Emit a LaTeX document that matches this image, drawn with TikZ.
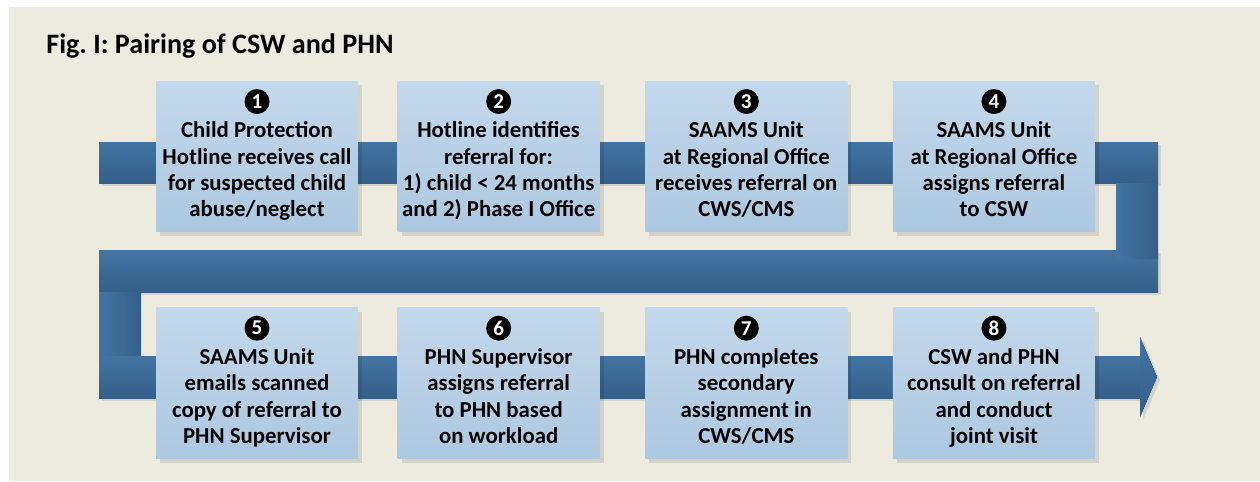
\documentclass[tikz,border=0pt]{standalone}
\usepackage{fontspec}
\setmainfont{Carlito}
\usepackage{tikz}
\usetikzlibrary{positioning,shadows,calc}
\definecolor{paper}{RGB}{237,235,224}
\definecolor{bandtop}{RGB}{66,116,162}
\definecolor{bandbot}{RGB}{53,95,137}
\definecolor{boxtop}{RGB}{195,216,235}
\definecolor{boxbot}{RGB}{172,200,224}

\begin{document}
\begin{tikzpicture}[x=0.02cm,y=-0.02cm,node distance=0.84cm]
        \tikzset{stepbox/.style={rectangle,minimum width=4.04cm,minimum height=3.02cm,inner sep=0pt,top color=boxtop,bottom color=boxbot,drop shadow={shadow xshift=0.08cm,shadow yshift=-0.08cm,fill=black,opacity=0.1}}}
        \tikzset{num/.style={circle,fill=black,text=white,minimum size=0.5cm,inner sep=0pt,font=\fontsize{12}{12}\selectfont\bfseries}}
        \tikzset{steptext/.style={align=center,inner sep=0pt,font=\fontsize{13}{15}\selectfont\bfseries}}
        \tikzset{hband/.style={top color=bandtop,bottom color=bandbot,drop shadow={shadow xshift=0.06cm,shadow yshift=-0.06cm,fill=black,opacity=0.1}}}
        \tikzset{vband/.style={left color=bandtop,right color=bandbot}}

        \useasboundingbox (0,0) rectangle (1260,481);
        \fill[paper] (9,7) rectangle (1260,481);
        \node[anchor=base west,inner sep=0pt,font=\fontsize{16}{16}\selectfont\bfseries] (title) at (46,53) {Fig.\ I: Pairing of CSW and PHN};

        % centre line of the ribbon
        \coordinate (start) at (99,162.5);
        \coordinate (bendA) at (1137,162.5);
        \coordinate (bendB) at (1137,271);
        \coordinate (bendC) at (120,271);
        \coordinate (bendD) at (120,377);
        \coordinate (tip) at (1157,377);

        % ribbon pieces
        \fill[hband] ($(start)+(0,-20.5)$) rectangle ($(bendA)+(21,20.5)$);
        \fill[hband] ($(bendC)+(-21,-21)$) rectangle ($(bendB)+(21,21)$);
        \fill[vband] ($(bendA)+(-21,20.5)$) rectangle ($(bendB)+(21,-13)$);
        \fill[vband] ($(bendC)+(-21,21)$) rectangle ($(bendD)+(21,-21)$);
        \fill[hband] ($(bendD)+(-21,-21)$) rectangle ($(tip)+(-17,21)$);
        \fill[hband] ($(tip)+(-17,-40)$) -- (tip) -- ($(tip)+(-17,40)$) -- cycle;

        % steps
        \node[stepbox] (box1) at (257,156.5) {};
        \node[stepbox,right=0.78cm of box1] (box2) {};
        \node[stepbox,right=0.9cm of box2] (box3) {};
        \node[stepbox,right=0.9cm of box3] (box4) {};
        \node[stepbox,below=1.5cm of box1] (box5) {};
        \node[stepbox,right=0.78cm of box5] (box6) {};
        \node[stepbox,right=0.9cm of box6] (box7) {};
        \node[stepbox,right=0.9cm of box7] (box8) {};

        \foreach \i in {1,...,8}
            \node[num,below=0.16cm of box\i.north] (num\i) {\i};

        \node[steptext,below=0.14cm of num1] (text1) {Child Protection\\Hotline receives call\\for suspected child\\abuse/neglect};
        \node[steptext,below=0.14cm of num2] (text2) {Hotline identifies\\referral for:\\1) child < 24 months\\and 2) Phase I Office};
        \node[steptext,below=0.14cm of num3] (text3) {SAAMS Unit\\at Regional Office\\receives referral on\\CWS/CMS};
        \node[steptext,below=0.14cm of num4] (text4) {SAAMS Unit\\at Regional Office\\assigns referral\\to CSW};
        \node[steptext,below=0.14cm of num5] (text5) {SAAMS Unit\\emails scanned\\copy of referral to\\PHN Supervisor};
        \node[steptext,below=0.14cm of num6] (text6) {PHN Supervisor\\assigns referral\\to PHN based\\on workload};
        \node[steptext,below=0.14cm of num7] (text7) {PHN completes\\secondary\\assignment in\\CWS/CMS};
        \node[steptext,below=0.14cm of num8] (text8) {CSW and PHN\\consult on referral\\and conduct\\joint visit};
\end{tikzpicture}
\end{document}
